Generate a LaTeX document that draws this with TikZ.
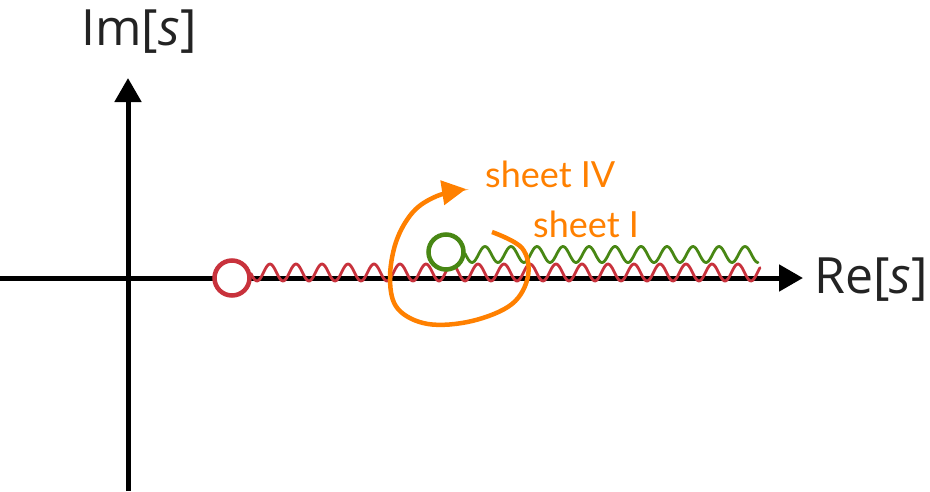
\documentclass[tikz,border=0pt]{standalone}
\usepackage{fontspec}
\setmainfont{Open Sans}
\newfontfamily\labelfont{Lato}
\usetikzlibrary{arrows.meta}
\definecolor{cutred}{RGB}{200,50,60}
\definecolor{cutgreen}{RGB}{72,135,20}
\definecolor{pathorange}{RGB}{255,128,0}
\definecolor{axistext}{RGB}{35,35,35}
\begin{document}
\begin{tikzpicture}[x=1pt,y=-1pt,
  axis/.style={line width=5pt,-{Triangle[length=24pt,width=26pt]}},
  cut/.style={line width=2.8pt,line cap=round},
  branchpt/.style={circle,line width=4.5pt,minimum size=35pt,inner sep=0pt,fill=white},
  axislabel/.style={text=axistext,font=\fontsize{50}{60}\selectfont,inner sep=0pt},
  sheetlabel/.style={text=pathorange,font=\labelfont\fontsize{36}{42}\selectfont,inner sep=0pt,anchor=base west}]
\useasboundingbox (0,0) rectangle (930,491);
% axes
\coordinate (xstart) at (0,278);
\coordinate (xend) at (803,278);
\coordinate (ystart) at (128,491);
\coordinate (yend) at (128,78);
\draw[axis] (xstart) -- (xend);
\draw[axis] (ystart) -- (yend);
\node[axislabel] (imlabel) at (139,32) {Im[\textit{s}]};
\node[axislabel] (relabel) at (871,280) {Re[\textit{s}]};
% branch cuts (period 26, i.e. 360/26 degrees per unit)
\draw[cut,cutred] plot[domain=251:760,samples=400] (\x,{272.5+8.5*cos(13.84615*(\x-257))});
\draw[cut,cutgreen] plot[domain=465:758,samples=250] (\x,{254.5+8*cos(13.84615*(\x-472))});
% branch points
\node[branchpt,draw=cutred] (thr1) at (232,278) {};
\node[branchpt,draw=cutgreen] (thr2) at (446,252) {};
% path between sheets
\draw[pathorange,line width=4.5pt,-{Triangle[length=24pt,width=24pt]}]
  plot[smooth,tension=0.6] coordinates {(492,232) (522,248) (528,276) (512,304) (472,321) (428,324) (398,309) (390,280) (396,242) (413,212) (437,196) (466,189)};
\node[sheetlabel] (sheetIV) at (485,187) {sheet IV};
\node[sheetlabel] (sheetI) at (533,237) {sheet I};
\end{tikzpicture}
\end{document}
